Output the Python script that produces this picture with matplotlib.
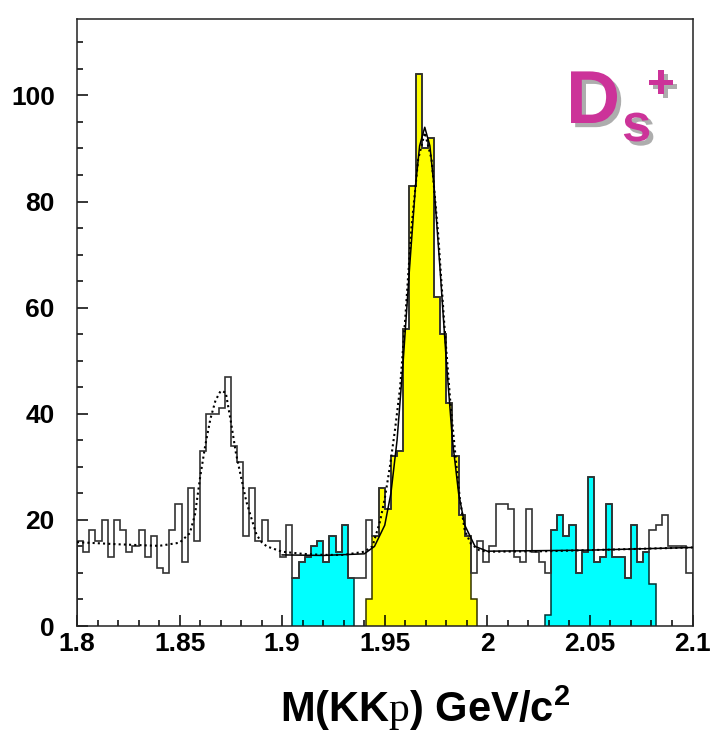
import numpy as np
import matplotlib.pyplot as plt
import matplotlib.patheffects as pe
from matplotlib.ticker import MultipleLocator, FixedLocator, FixedFormatter

plt.rcParams['font.family'] = ['Liberation Sans', 'DejaVu Sans']
plt.rcParams['mathtext.fontset'] = 'custom'
plt.rcParams['mathtext.rm'] = 'Liberation Serif'
plt.rcParams['mathtext.bf'] = 'Liberation Sans:bold'

# 100 bins of 3 MeV between 1.8 and 2.1 GeV
bin_lo, bin_hi, n_bins = 1.8, 2.1, 100

# open histogram, all candidates
counts = [16, 14, 18, 16, 20, 13, 20, 18, 14, 15,
          18, 13, 17, 11, 10, 18, 23, 12, 26, 16,
          33, 40, 40, 41, 47, 34, 31, 17, 26, 16,
          20, 16, 16, 13, 19, 9, 12, 13, 15, 16,
          12, 17, 14, 19, 9, 9, 9, 20, 17, 26,
          22, 32, 33, 56, 83, 104, 90, 92, 62, 55,
          42, 32, 21, 17, 10, 16, 12, 15, 23, 23,
          22, 13, 12, 22, 14, 12, 10, 18, 21, 17,
          19, 10, 14, 28, 12, 13, 23, 13, 13, 9,
          19, 12, 14, 18, 19, 21, 15, 15, 15, 10]

# signal window (yellow) and sidebands (cyan): first bin index + counts
signal_first = 47
signal_counts = [5, 17, 26, 22, 32, 33, 56, 83, 104, 90, 92, 62, 55, 42, 32, 21, 17, 5]
side_lo_first = 35
side_lo_counts = [9, 12, 13, 15, 16, 12, 17, 14, 19, 9]
side_hi_first = 76
side_hi_counts = [2, 18, 21, 17, 19, 10, 14, 28, 12, 13, 23, 13, 13, 9, 19, 12, 14, 8]

# fit curves
full_fit_x = [1.800, 1.820, 1.840, 1.850, 1.855, 1.8575, 1.860, 1.8625, 1.865, 1.8675,
              1.870, 1.8725, 1.875, 1.8775, 1.880, 1.8825, 1.885, 1.8875, 1.890, 1.8925,
              1.900, 1.910, 1.920, 1.930, 1.940, 1.944, 1.9477, 1.950, 1.9525, 1.955,
              1.9575, 1.960, 1.963, 1.9663, 1.9695, 1.9728, 1.976, 1.979, 1.982, 1.985,
              1.9866, 1.989, 1.992, 1.996, 2.000, 2.030, 2.060, 2.100]
full_fit_y = [15.8, 15.4, 15.1, 15.7, 17.5, 21, 28, 34, 39, 42.5,
              44.3, 44, 38.5, 32.5, 28, 23.5, 20.3, 17.2, 15.8, 15,
              14, 13.6, 13.4, 13.4, 14, 15, 19.7, 24, 30, 37,
              45, 58, 75, 88, 93, 88, 74, 57, 42, 30,
              24, 18, 15.5, 14.3, 14.0, 14.1, 14.4, 14.8]

ds_fit_x = [1.900, 1.920, 1.940, 1.945, 1.950, 1.953, 1.956, 1.959, 1.962, 1.965,
            1.967, 1.9695, 1.972, 1.974, 1.977, 1.980, 1.983, 1.986, 1.989, 1.994,
            2.000, 2.050, 2.100]
ds_fit_y = [13.4, 13.3, 13.6, 15, 19, 25, 35, 50, 67, 83,
            90.5, 94, 90.5, 83, 67, 50, 35, 25, 19, 15,
            14.1, 14.3, 14.8]

xtick_vals = [1.8, 1.85, 1.9, 1.95, 2.0, 2.05, 2.1]
xtick_labels = ['1.8', '1.85', '1.9', '1.95', '2', '2.05', '2.1']

edges = np.linspace(bin_lo, bin_hi, n_bins + 1)

fig = plt.figure(figsize=(7.12, 7.33), dpi=100)
ax = fig.add_axes([77 / 712, 107 / 733, 615.5 / 712, 607 / 733])

def sub_edges(first, vals):
    return edges[first:first + len(vals) + 1]

ax.stairs(signal_counts, sub_edges(signal_first, signal_counts), fill=True,
          facecolor='#ffff00', edgecolor='#333300', lw=1.1, zorder=1)
ax.stairs(side_lo_counts, sub_edges(side_lo_first, side_lo_counts), fill=True,
          facecolor='#00ffff', edgecolor='#003333', lw=1.1, zorder=1)
ax.stairs(side_hi_counts, sub_edges(side_hi_first, side_hi_counts), fill=True,
          facecolor='#00ffff', edgecolor='#003333', lw=1.1, zorder=1)
ax.stairs(counts, edges, color='#333333', lw=1.2, zorder=2)

ax.plot(full_fit_x, full_fit_y, color='black', lw=1.5, ls=(0, (1, 1.5)), zorder=3)
ax.plot(ds_fit_x, ds_fit_y, color='black', lw=1.1, zorder=3)

ax.set_xlim(bin_lo, bin_hi)
ax.set_ylim(0, 114.4)
ax.xaxis.set_major_locator(FixedLocator(xtick_vals))
ax.xaxis.set_major_formatter(FixedFormatter(xtick_labels))
ax.xaxis.set_minor_locator(MultipleLocator(0.01))
ax.yaxis.set_major_locator(MultipleLocator(20))
ax.yaxis.set_minor_locator(MultipleLocator(5))
ax.tick_params(which='both', direction='in', top=False, right=False, width=1.1)
ax.tick_params(which='major', length=8)
ax.tick_params(which='minor', length=4.5)
ax.tick_params(axis='x', pad=4)
ax.tick_params(axis='y', pad=16)
for lab in ax.get_xticklabels() + ax.get_yticklabels():
    lab.set_fontsize(19)
    lab.set_fontweight('bold')
for sp in ax.spines.values():
    sp.set_linewidth(1.1)
    sp.set_color('#222222')

fig.text(425 / 712, 1 - 722 / 733, r'M(KK$\mathrm{p}$) GeV/c$^{\mathbf{2}}$',
         ha='center', va='baseline', fontsize=30, fontweight='bold')

shadow = [pe.withSimplePatchShadow(offset=(3, -3), shadow_rgbFace='#999999', alpha=0.8)]
magenta = '#cc3399'
fig.text(566 / 712, 1 - 123 / 733, 'D', color=magenta, fontsize=54,
         fontweight='bold', ha='left', va='baseline', path_effects=shadow)
fig.text(622 / 712, 1 - 141 / 733, 's', color=magenta, fontsize=38,
         fontweight='bold', ha='left', va='baseline', path_effects=shadow)
fig.text(661 / 712, 1 - 86 / 733, '+', color=magenta, fontsize=34,
         fontweight='bold', ha='center', va='center', path_effects=shadow)

fig.savefig('out.png', dpi=100)
